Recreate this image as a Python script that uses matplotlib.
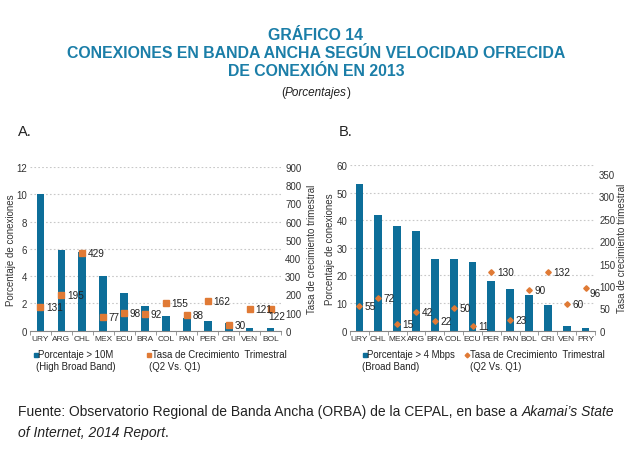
import numpy as np
import matplotlib.pyplot as plt
from matplotlib.ticker import FixedLocator, MultipleLocator

plt.rcParams['font.family'] = ['Liberation Sans', 'DejaVu Sans']

# Panel A: high broad band (> 10M)
cats_a = ["URY", "ARG", "CHL", "MEX", "ECU", "BRA", "COL", "PAN", "PER", "CRI", "VEN", "BOL"]
pct_a = [10.0, 5.9, 5.8, 4.0, 2.8, 1.8, 1.1, 0.9, 0.7, 0.6, 0.2, 0.2]
growth_a = [131, 195, 429, 77, 98, 92, 155, 88, 162, 30, 121, 122]

# Panel B: broad band (> 4 Mbps)
cats_b = ["URY", "CHL", "MEX", "ARG", "BRA", "COL", "ECU", "PER", "PAN", "BOL", "CRI", "VEN", "PRY"]
pct_b = [53.0, 42.0, 38.0, 36.0, 26.0, 26.0, 25.0, 18.0, 15.0, 13.0, 9.3, 1.6, 1.0]
growth_b = [55, 72, 15, 42, 22, 50, 11, 130, 23, 90, 132, 60, 96]

BLUE = "#0d6e99"
TITLE_BLUE = "#1b7ea8"
ORANGE = "#e07a35"
GRID = "#c8c8c8"
TXT = "#222222"

W, H = 637, 452
fig = plt.figure(figsize=(W / 100, H / 100), dpi=100)
renderer = fig.canvas.get_renderer()


def fx(px):
    return px / W


def fy(py):
    return 1 - py / H


def text_run(x, y, parts, size, ha="left"):
    # draw pieces of text one after the other (mixed upright / italic)
    objs = []
    cur = fx(x)
    for s, style in parts:
        t = fig.text(cur, fy(y), s, ha="left", va="center", fontsize=size,
                     style=style, color=TXT)
        bb = t.get_window_extent(renderer)
        cur += bb.width / W
        objs.append(t)
    if ha == "center":
        shift = (cur - fx(x)) / 2
        for t in objs:
            px, py = t.get_position()
            t.set_position((px - shift, py))


def draw_panel(rect, cats, pct, growth, ylim_l, step_l, ylim_r, ticks_r,
               marker, msize, bar_w, lab_l, lab_r, last_off):
    ax = fig.add_axes(rect)
    x = np.arange(len(cats))
    ax.bar(x, pct, width=bar_w, color=BLUE, zorder=2)
    ax.set_xlim(-0.5, len(cats) - 0.5)
    ax.set_ylim(*ylim_l)
    ax.yaxis.set_major_locator(MultipleLocator(step_l))
    ax.xaxis.set_ticks_position("bottom")
    ax.set_xticks(x)
    ax.set_xticklabels(cats, fontsize=6, color="#333333")
    ax.xaxis.set_minor_locator(FixedLocator(np.arange(len(cats) + 1) - 0.5))
    ax.tick_params(axis='x', which='major', length=0, pad=3)
    ax.tick_params(axis='x', which='minor', length=3, color="#888888")
    ax.tick_params(axis='y', length=0, labelsize=7, colors="#333333", pad=2)
    ax.grid(True, axis='y', linestyle=(0, (1.5, 2)), color=GRID, linewidth=0.8, zorder=0)
    for s in ["top", "right", "left"]:
        ax.spines[s].set_visible(False)
    ax.spines["bottom"].set_color("#888888")
    ax.spines["bottom"].set_linewidth(0.8)
    ax.set_ylabel("Porcentaje de conexiones", fontsize=7, color="#333333")
    ax.yaxis.set_label_coords(lab_l, 0.5)

    ax2 = ax.twinx()
    ax2.set_ylim(*ylim_r)
    ax2.set_yticks(ticks_r)
    ax2.tick_params(axis='y', length=0, labelsize=7, colors="#333333", pad=3)
    for s in ax2.spines.values():
        s.set_visible(False)
    ax2.plot(x, growth, linestyle="none", marker=marker, markersize=msize,
             color=ORANGE, markeredgecolor=ORANGE, zorder=3)
    for i, g in enumerate(growth):
        off = last_off if i == len(growth) - 1 else (4, 0)
        ax2.annotate(str(g), (x[i], g), xytext=off, textcoords="offset points",
                     fontsize=7.2, color=TXT, va="center", ha="left")
    ax2.set_ylabel("Tasa de crecimiento trimestral", fontsize=7, color="#333333")
    ax2.yaxis.set_label_coords(lab_r, 0.5)
    return ax, ax2


# Titles
for yy, line in [(35, "GRÁFICO 14"),
                 (53, "CONEXIONES EN BANDA ANCHA SEGÚN VELOCIDAD OFRECIDA"),
                 (71, "DE CONEXIÓN EN 2013")]:
    fig.text(fx(316), fy(yy), line, ha="center", va="center",
             fontsize=11.4, fontweight="bold", color=TITLE_BLUE)
text_run(316, 93, [("(", "normal"), ("Porcentajes", "italic"), (")", "normal")],
         8.5, ha="center")

fig.text(fx(18), fy(132), "A.", ha="left", va="center", fontsize=10.5, color=TXT)
fig.text(fx(339), fy(132), "B.", ha="left", va="center", fontsize=10.5, color=TXT)

draw_panel([fx(30), fy(331.7), 251 / W, 163.7 / H],
           cats_a, pct_a, growth_a, (0, 12), 2, (0, 900), np.arange(0, 901, 100),
           "s", 4.5, 0.37, -0.056, 1.104, (-1.5, -5.5))
draw_panel([fx(350), fy(331.7), 245 / W, 165.7 / H],
           cats_b, pct_b, growth_b, (0, 60), 10, (0, 370), np.arange(0, 351, 50),
           "D", 2.8, 0.41, -0.062, 1.09, (3, -4))


# Legends
def legend_item(xm, y, marker, msize, color, line1, line2, x2):
    fig.lines.append(plt.Line2D([fx(xm)], [fy(y + 1)], transform=fig.transFigure,
                                marker=marker, markersize=msize, color=color,
                                linestyle="none"))
    fig.text(fx(xm + 2.5), fy(y), line1, ha="left", va="center", fontsize=6.9, color=TXT)
    fig.text(fx(x2), fy(y + 12), line2, ha="left", va="center", fontsize=6.9, color=TXT)


legend_item(36, 355, "s", 3.2, BLUE, "Porcentaje > 10M", "(High Broad Band)", 36)
legend_item(149, 355, "s", 3.2, ORANGE, "Tasa de Crecimiento  Trimestral", "(Q2 Vs. Q1)", 149)
legend_item(365, 355, "s", 3.2, BLUE, "Porcentaje > 4 Mbps", "(Broad Band)", 362)
legend_item(467, 355, "D", 2.4, ORANGE, "Tasa de Crecimiento  Trimestral", "(Q2 Vs. Q1)", 470)

# Footer
text_run(18, 412, [("Fuente: Observatorio Regional de Banda Ancha (ORBA) de la CEPAL, "
                    "en base a ", "normal"), ("Akamai\u2019s State", "italic")], 10)
text_run(18, 433, [("of Internet, 2014 Report", "italic"), (".", "normal")], 10)

fig.savefig("out.png", dpi=100)
